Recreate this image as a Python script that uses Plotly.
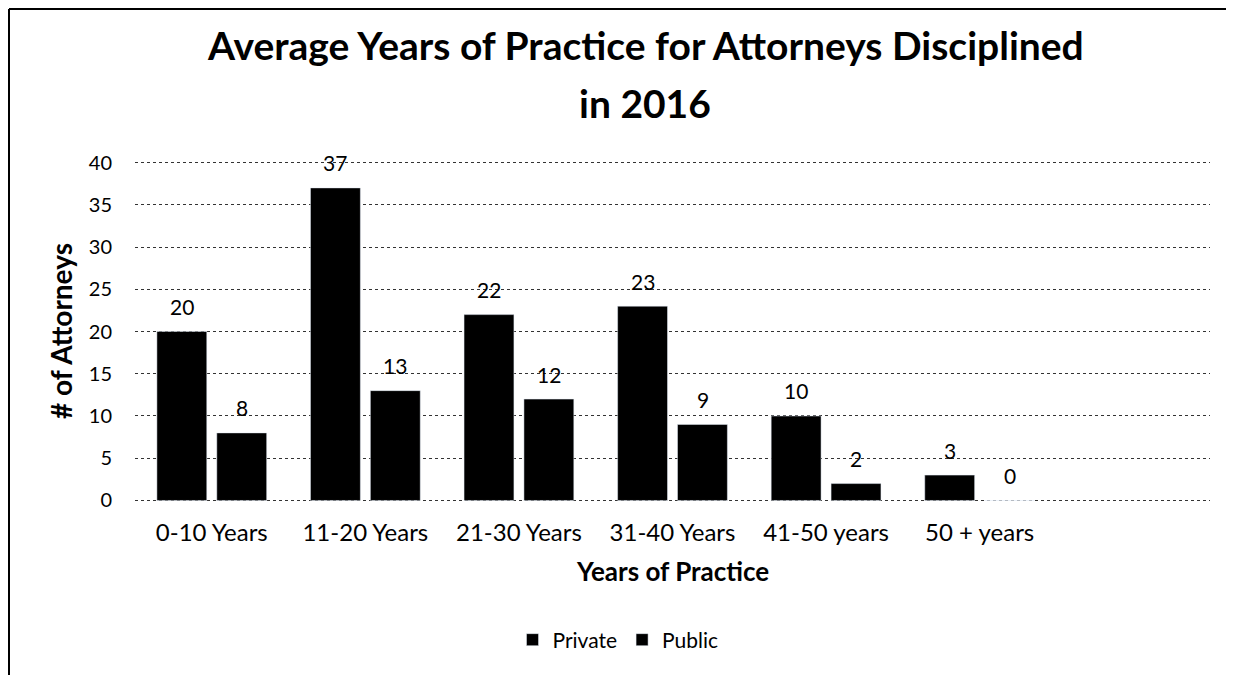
import plotly.graph_objects as go

categories = ["0-10 Years", "11-20 Years", "21-30 Years", "31-40 Years", "41-50 years", "50 + years", " "]
private = [20, 37, 22, 23, 10, 3, None]
public = [8, 13, 12, 9, 2, 0, None]
y_ticks = [0, 5, 10, 15, 20, 25, 30, 35, 40]
y_range = [-0.3, 40.3]

FONT = "Lato"

# page body has an 8px margin, so the figure is drawn 8px smaller and offset
FW, FH = 1226, 667
L, T, PW, PH = 127, 152, 1075.0, 343.0
BOTTOM_REF = 8 + T + PH
def px(x):  # reference pixel x -> paper
    return (x - 135) / PW
def py(y):  # reference pixel y -> paper
    return (BOTTOM_REF - y) / PH

fig = go.Figure()
fig.add_trace(go.Bar(name="Private", x=categories, y=private, marker=dict(color="black")))
fig.add_trace(go.Bar(name="Public", x=categories, y=public, marker=dict(color="black")))

annotations = []
for series, shift in ((private, -30), (public, 30)):
    for c, v in zip(categories, series):
        if v is None:
            continue
        annotations.append(dict(text=str(v), x=c, y=v, xref="x", yref="y", xshift=shift, yshift=25,
                                xanchor="center", yanchor="middle", showarrow=False,
                                font=dict(size=21, family=FONT, color="black")))

annotations += [
    dict(text="<b>Average Years of Practice for Attorneys Disciplined</b>", x=px(645), y=py(45),
         xref="paper", yref="paper", xanchor="center", yanchor="middle", showarrow=False,
         font=dict(size=39, family=FONT)),
    dict(text="<b>in 2016</b>", x=px(645), y=py(103),
         xref="paper", yref="paper", xanchor="center", yanchor="middle", showarrow=False,
         font=dict(size=39, family=FONT)),
    dict(text="<b>Years of Practice</b>", x=px(672), y=py(571), xref="paper", yref="paper",
         xanchor="center", yanchor="middle", showarrow=False, font=dict(size=26, family=FONT)),
    dict(text="<b># of Attorneys</b>", textangle=-90, x=px(61), y=py(331), xref="paper", yref="paper",
         xanchor="center", yanchor="middle", showarrow=False, font=dict(size=28, family=FONT)),
]

fig.update_layout(
    width=FW, height=FH,
    paper_bgcolor="white", plot_bgcolor="white",
    font=dict(family=FONT, color="black", size=18),
    margin=dict(l=L, r=FW - L - int(PW), t=T, b=FH - T - int(PH), autoexpand=False),
    barmode="group", bargap=0.22, bargroupgap=0.167,
    showlegend=True,
    legend=dict(orientation="h", x=px(618), xanchor="center", y=py(640), yanchor="middle",
                font=dict(size=21, family=FONT), itemwidth=30, traceorder="normal"),
    xaxis=dict(type="category", range=[-0.5, 6.5], showgrid=False, showline=False,
               tickfont=dict(size=24, family=FONT), ticks="", ticklabelstandoff=13),
    yaxis=dict(range=y_range, tickvals=y_ticks, showgrid=True, gridcolor="#333333",
               griddash="dot", gridwidth=1, zeroline=False, showline=False,
               tickfont=dict(size=20, family=FONT), ticks="", ticklabelstandoff=22),
    annotations=annotations,
)
border = dict(color="black", width=2)
fig.add_shape(type="line", xref="paper", yref="paper", x0=px(9), x1=px(1231), y0=py(9), y1=py(9), line=border)
fig.add_shape(type="line", xref="paper", yref="paper", x0=px(9), x1=px(9), y0=py(9), y1=py(675), line=border)
fig.add_shape(type="line", xref="paper", yref="paper", x0=px(1231), x1=px(1231), y0=py(325), y1=py(675), line=border)

fig.write_html("out.html")
